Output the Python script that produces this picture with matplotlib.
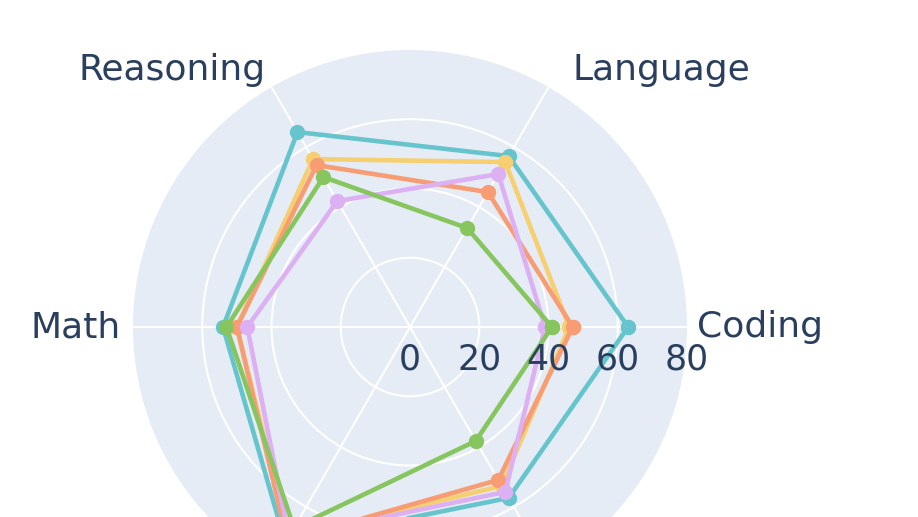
import numpy as np
import matplotlib.pyplot as plt
from matplotlib.transforms import ScaledTranslation

# categories around the radar (counterclockwise from the right)
categories = ['Coding', 'Language', 'Reasoning', 'Math', 'Knowledge', 'Safety']

# values
model_a = [63, 57, 65, 54, 72, 57]
model_b = [46, 55, 56, 50, 70, 53]
model_c = [47, 45, 54, 50, 71, 51]
model_d = [39, 51, 42, 47, 70, 55]
model_e = [41, 33, 50, 53, 67, 38]
series = [model_a, model_b, model_c, model_d, model_e]
colors = ['#66C5CC', '#F6CF71', '#F89C74', '#DCB0F2', '#87C55F']

radial_ticks = [0, 20, 40, 60, 80]
text_color = '#2A3F5F'

fig = plt.figure(figsize=(9.18, 5.17), dpi=100)
W, H = 918, 517
cx, cy, rad = 410, 327, 277
ax = fig.add_axes([(cx - rad) / W, (H - cy - rad) / H, 2 * rad / W, 2 * rad / H],
                  projection='polar')
ax.set_facecolor('#E5ECF6')
ax.spines['polar'].set_visible(False)

angles = np.deg2rad(np.arange(len(categories)) * 360 / len(categories))
ax.set_xticks(angles)
ax.set_xticklabels([])
ax.set_yticks(radial_ticks[1:-1])
ax.set_yticklabels([])
ax.set_ylim(0, 80)
ax.grid(color='white', linewidth=1.5)
ax.tick_params(length=0)

closed = np.append(angles, angles[0])
for vals, col in zip(series, colors):
    v = vals + vals[:1]
    ax.plot(closed, v, color=col, linewidth=3.3, marker='o', markersize=10,
            zorder=3, clip_on=False)

# radial tick labels below the 0 degree axis
off = ScaledTranslation(0, -33 / 100, fig.dpi_scale_trans)
for r in radial_ticks:
    ax.text(0, r, str(r), ha='center', va='center', fontsize=25,
            color=text_color, transform=ax.transData + off, zorder=4)

# angular labels (the two lower ones fall below the visible area)
label_style = {
    'Coding': ('left', 'center', 10, 0),
    'Language': ('left', 'bottom', 24, 0),
    'Reasoning': ('right', 'bottom', -6, 0),
    'Math': ('right', 'center', -12, 0),
    'Knowledge': ('right', 'top', -6, 0),
    'Safety': ('left', 'top', 24, 0),
}
for ang, name in zip(angles, categories):
    ha, va, dx, dy = label_style[name]
    tr = ax.transData + ScaledTranslation(dx / 100, dy / 100, fig.dpi_scale_trans)
    ax.text(ang, 80, name, ha=ha, va=va, fontsize=26, color=text_color,
            transform=tr, clip_on=False)

fig.savefig('out.png', dpi=100)
